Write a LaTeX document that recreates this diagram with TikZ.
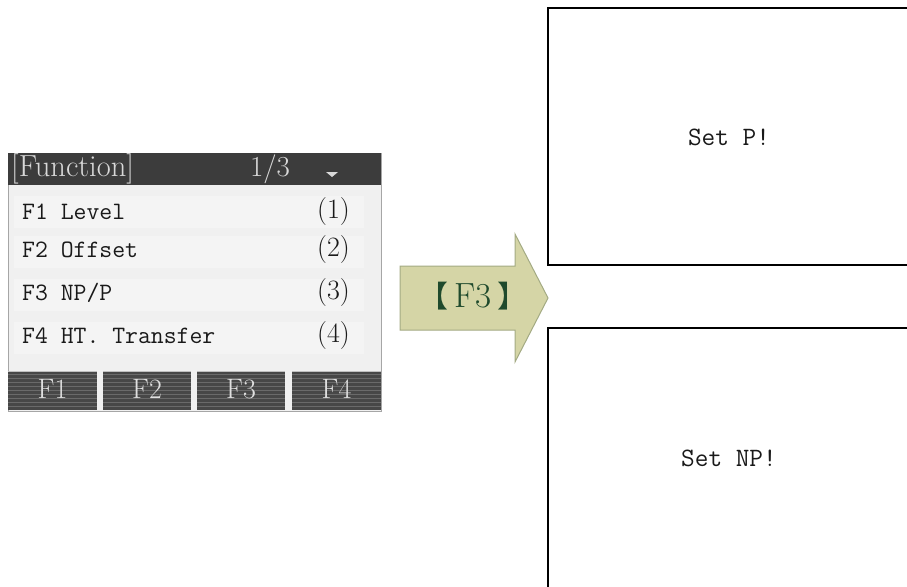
\documentclass[tikz,border=0pt]{standalone}
\usepackage{fontspec}
\newfontfamily\cjk{Noto Sans CJK SC}
\usetikzlibrary{calc}
\definecolor{hdr}{HTML}{3C3C3C}
\definecolor{bodyg}{HTML}{F0F0F0}
\definecolor{rowg}{HTML}{F4F4F4}
\definecolor{btn}{HTML}{474747}
\definecolor{btnline}{HTML}{6A6A6A}
\definecolor{arrfill}{HTML}{D5D5A6}
\definecolor{arrdraw}{HTML}{A3AA83}
\definecolor{arrtxt}{HTML}{1F4A2C}
\tikzset{
  rowtxt/.style={anchor=west,inner sep=0pt,font=\ttfamily\fontsize{25}{25}\selectfont,text=black!90},
  numtxt/.style={anchor=east,inner sep=0pt,font=\fontsize{28}{28}\selectfont,text=black!90},
  btntxt/.style={inner sep=0pt,font=\fontsize{28}{28}\selectfont,text=white!88!black},
  msgtxt/.style={inner sep=0pt,font=\ttfamily\fontsize{26.5}{26.5}\selectfont,text=black!90},
  msgbox/.style={draw=black,line width=2.2pt,fill=white}
}
\begin{document}
\begin{tikzpicture}[x=1pt,y=-1pt]
\useasboundingbox (0,0) rectangle (907,586);
\clip (0,0) rectangle (907,586);
% screen
\fill[bodyg,draw=gray!70] (8,153) rectangle (381,411);
\foreach \y in {196,236,279,322}{\fill[rowg] (14,\y) rectangle (364,\y+32);}
\fill[hdr] (8,153) rectangle (381,185);
\node[rowtxt,text=white!85!black,font=\fontsize{30.5}{30.5}\selectfont] (hd) at (11,169) {[Function]};
\node[inner sep=0pt,text=white!85!black,font=\fontsize{29}{29}\selectfont] (pg) at (270,169) {1/3};
\fill[white!85!black] (326,172) -- (338,172) -- (332,177) -- cycle;
\node[rowtxt] (r1) at (22,212) {F1 Level};
\node[rowtxt] (r2) at (22,250) {F2 Offset};
\node[rowtxt] (r3) at (22,293) {F3 NP/P};
\node[rowtxt] (r4) at (22,336) {F4 HT. Transfer};
\node[numtxt] (n1) at (350,212) {(1)};
\node[numtxt] (n2) at (350,250) {(2)};
\node[numtxt] (n3) at (350,293) {(3)};
\node[numtxt] (n4) at (350,336) {(4)};
% buttons
\foreach \a/\b/\t/\n in {8/97/F1/b1,103/191/F2/b2,197/285/F3/b3,292/381/F4/b4}{
  \fill[btn] (\a,371) rectangle (\b,410);
  \foreach \yy in {374,378,...,406}{\draw[btnline,line width=0.6pt] (\a,\yy) -- (\b,\yy);}
  \draw[white!75!black,line width=1pt] (\a,371) -- (\b,371);
  \node[btntxt] (\n) at ({(\a+\b)/2},389) {\t};
}
% arrow
\draw[arrdraw,fill=arrfill,line width=1pt] (400,266) -- (515,266) -- (515,234) -- (548,298) -- (515,362) -- (515,330) -- (400,330) -- cycle;
\node[inner sep=0pt,text=arrtxt] (key) at (473,296) {{\cjk\fontsize{30}{30}\selectfont 【}\kern6pt{\fontsize{35}{35}\selectfont F3}\kern6pt{\cjk\fontsize{30}{30}\selectfont 】}};
% message boxes
\draw[msgbox] (548,8) rectangle (920,265);
\node[msgtxt] (m1) at (729,137) {Set P!};
\draw[msgbox] (548,328) rectangle (920,600);
\node[msgtxt] (m2) at (729,458) {Set NP!};
\end{tikzpicture}
\end{document}
